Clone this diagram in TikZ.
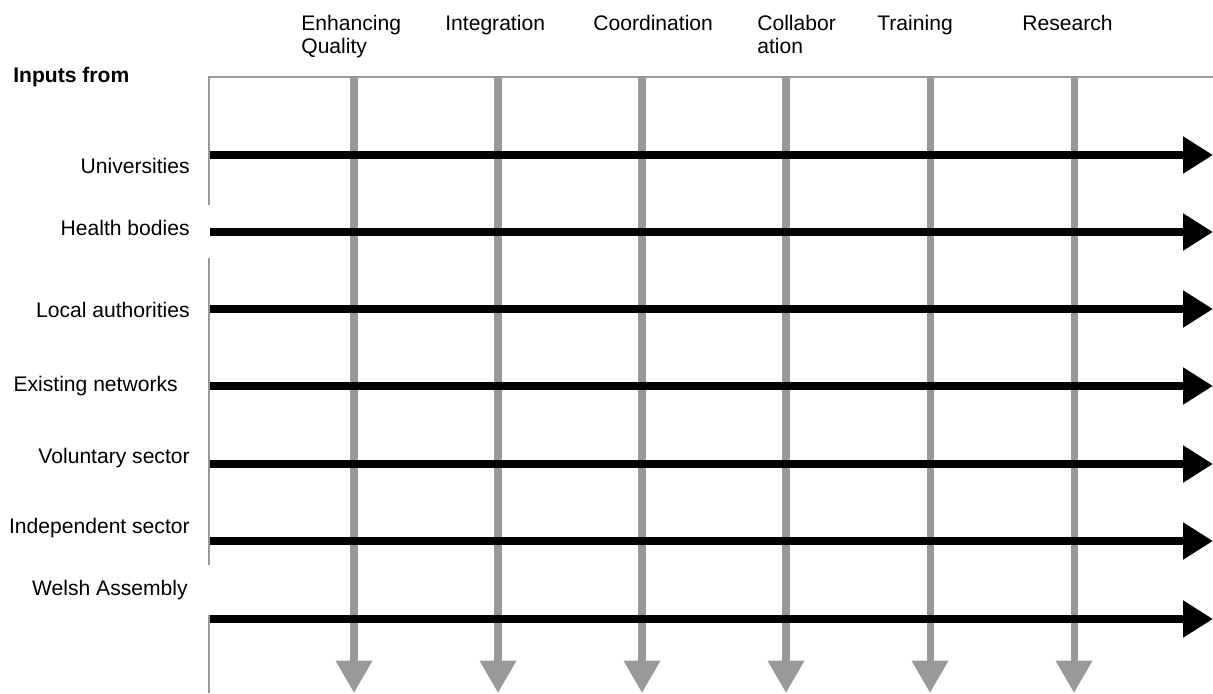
\documentclass[tikz,border=0pt]{standalone}
\usepackage{fontspec}
\setmainfont{Liberation Sans}
\usetikzlibrary{arrows.meta}
\definecolor{flowgray}{HTML}{999999}
\tikzset{
  input/.style={->, line width=4.5pt, >={Triangle[length=17pt,width=20pt]}},
  theme/.style={->, flowgray, line width=4pt, >={Triangle[length=18.5pt,width=20pt]}},
}
\begin{document}
\begin{tikzpicture}[x=0.02cm, y=-0.02cm,
    every node/.style={font=\fontsize{12}{13}\selectfont, inner sep=0pt}]
  \useasboundingbox (0,0) rectangle (1213,693);
  % frame
  \draw[flowgray, line width=1.2pt] (208,77) -- (1213,77);
  \foreach \a/\b in {77/205, 258/565, 615/693}
    \draw[flowgray, line width=1.2pt] (209,\a) -- (209,\b);
  \node[anchor=base west, font=\fontsize{12}{13}\selectfont\bfseries] (inputs) at (13,82) {Inputs from};
  % themes running down
  \foreach \n/\l/\x/\t in {qual/301/354/{Enhancing\\Quality}, integ/445/498/Integration,
                           coord/593/642/Coordination, collab/757/786/{Collabor\\ation},
                           train/877/930/Training, research/1022/1074/Research}
    { \node[anchor=north west, align=left] (\n) at (\l,15) {\t};
      \coordinate (\n-top) at (\x,77); \coordinate (\n-bot) at (\x,693);
      \draw[theme] (\n-top) -- (\n-bot); }
  % inputs running across
  \foreach \n/\y/\b/\r/\t in {uni/155/173/190/Universities, health/232/235/190/Health bodies,
                              local/309/317/190/Local authorities, nets/386/391/178/Existing networks,
                              vol/464/463/190/Voluntary sector, ind/541/533/190/Independent sector,
                              welsh/619/595/188/Welsh Assembly}
    { \node[anchor=base east] (\n) at (\r,\b) {\t};
      \coordinate (\n-in) at (210,\y); \coordinate (\n-out) at (1213,\y);
      \draw[input] (\n-in) -- (\n-out); }
\end{tikzpicture}
\end{document}
